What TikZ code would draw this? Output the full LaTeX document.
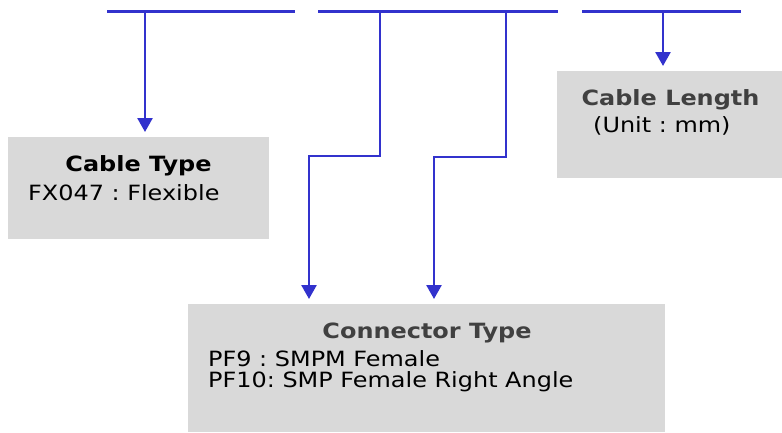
\documentclass[tikz,border=0pt]{standalone}
\usepackage{fontspec}
\setmainfont{DejaVu Sans}[FakeStretch=1.14]
\usetikzlibrary{arrows.meta}
\definecolor{wire}{RGB}{50,50,205}
\definecolor{panel}{RGB}{217,217,217}
\definecolor{heading}{RGB}{64,64,64}
\frenchspacing
\tikzset{
  bar/.style={wire, line width=3pt},
  lead/.style={wire, line width=2.6pt, -{Triangle[width=15pt,length=14pt]}, shorten >=5pt},
  panelbox/.style={fill=panel, draw=none, anchor=north west, inner sep=0pt},
  title/.style={font=\fontsize{21}{21}\selectfont\bfseries, inner sep=0pt, anchor=base},
  entry/.style={font=\fontsize{21}{21}\selectfont, inner sep=0pt, anchor=base west},
}
\begin{document}
\begin{tikzpicture}[x=1pt,y=-1pt]
\useasboundingbox (0,0) rectangle (782,432);
% boxes
\node[panelbox, minimum width=261pt, minimum height=102pt] (cabletype) at (8,137) {};
\node[panelbox, minimum width=225pt, minimum height=107pt] (cablelength) at (557,71) {};
\node[panelbox, minimum width=477pt, minimum height=128pt] (connector) at (188,304) {};
% texts
\node[title] (typetitle) at (138.5,171) {Cable Type};
\node[entry] (typeline) at (28,200) {FX047 : Flexible};
\node[title, heading] (lengthtitle) at (670.5,105) {Cable Length};
\node[entry] (lengthline) at (593,132) {(Unit : mm)};
\node[title, heading] (contitle) at (427,338) {Connector Type};
\node[entry] (conlineA) at (208,366) {PF9 : SMPM Female};
\node[entry] (conlineB) at (208,387) {PF10: SMP Female Right Angle};
%%%%
\coordinate (barAleft) at (107,11);
\coordinate (barAright) at (295,11);
\coordinate (barBleft) at (318,11);
\coordinate (barBright) at (558,11);
\coordinate (barCleft) at (582,11);
\coordinate (barCright) at (741,11);
\draw[bar] (barAleft) -- (barAright);
\draw[bar] (barBleft) -- (barBright);
\draw[bar] (barCleft) -- (barCright);
\coordinate (taptype) at (145,11);
\coordinate (tapconA) at (380,11);
\coordinate (tapconB) at (506,11);
\coordinate (taplength) at (663,11);
\draw[lead] (taptype) -- (taptype |- cabletype.north);
\draw[lead] (taplength) -- (taplength |- cablelength.north);
\draw[lead] (tapconA) -- (380,156) -- (309,156) -- (309,304 |- connector.north);
\draw[lead] (tapconB) -- (506,157) -- (434,157) -- (434,304 |- connector.north);
\end{tikzpicture}
\end{document}
